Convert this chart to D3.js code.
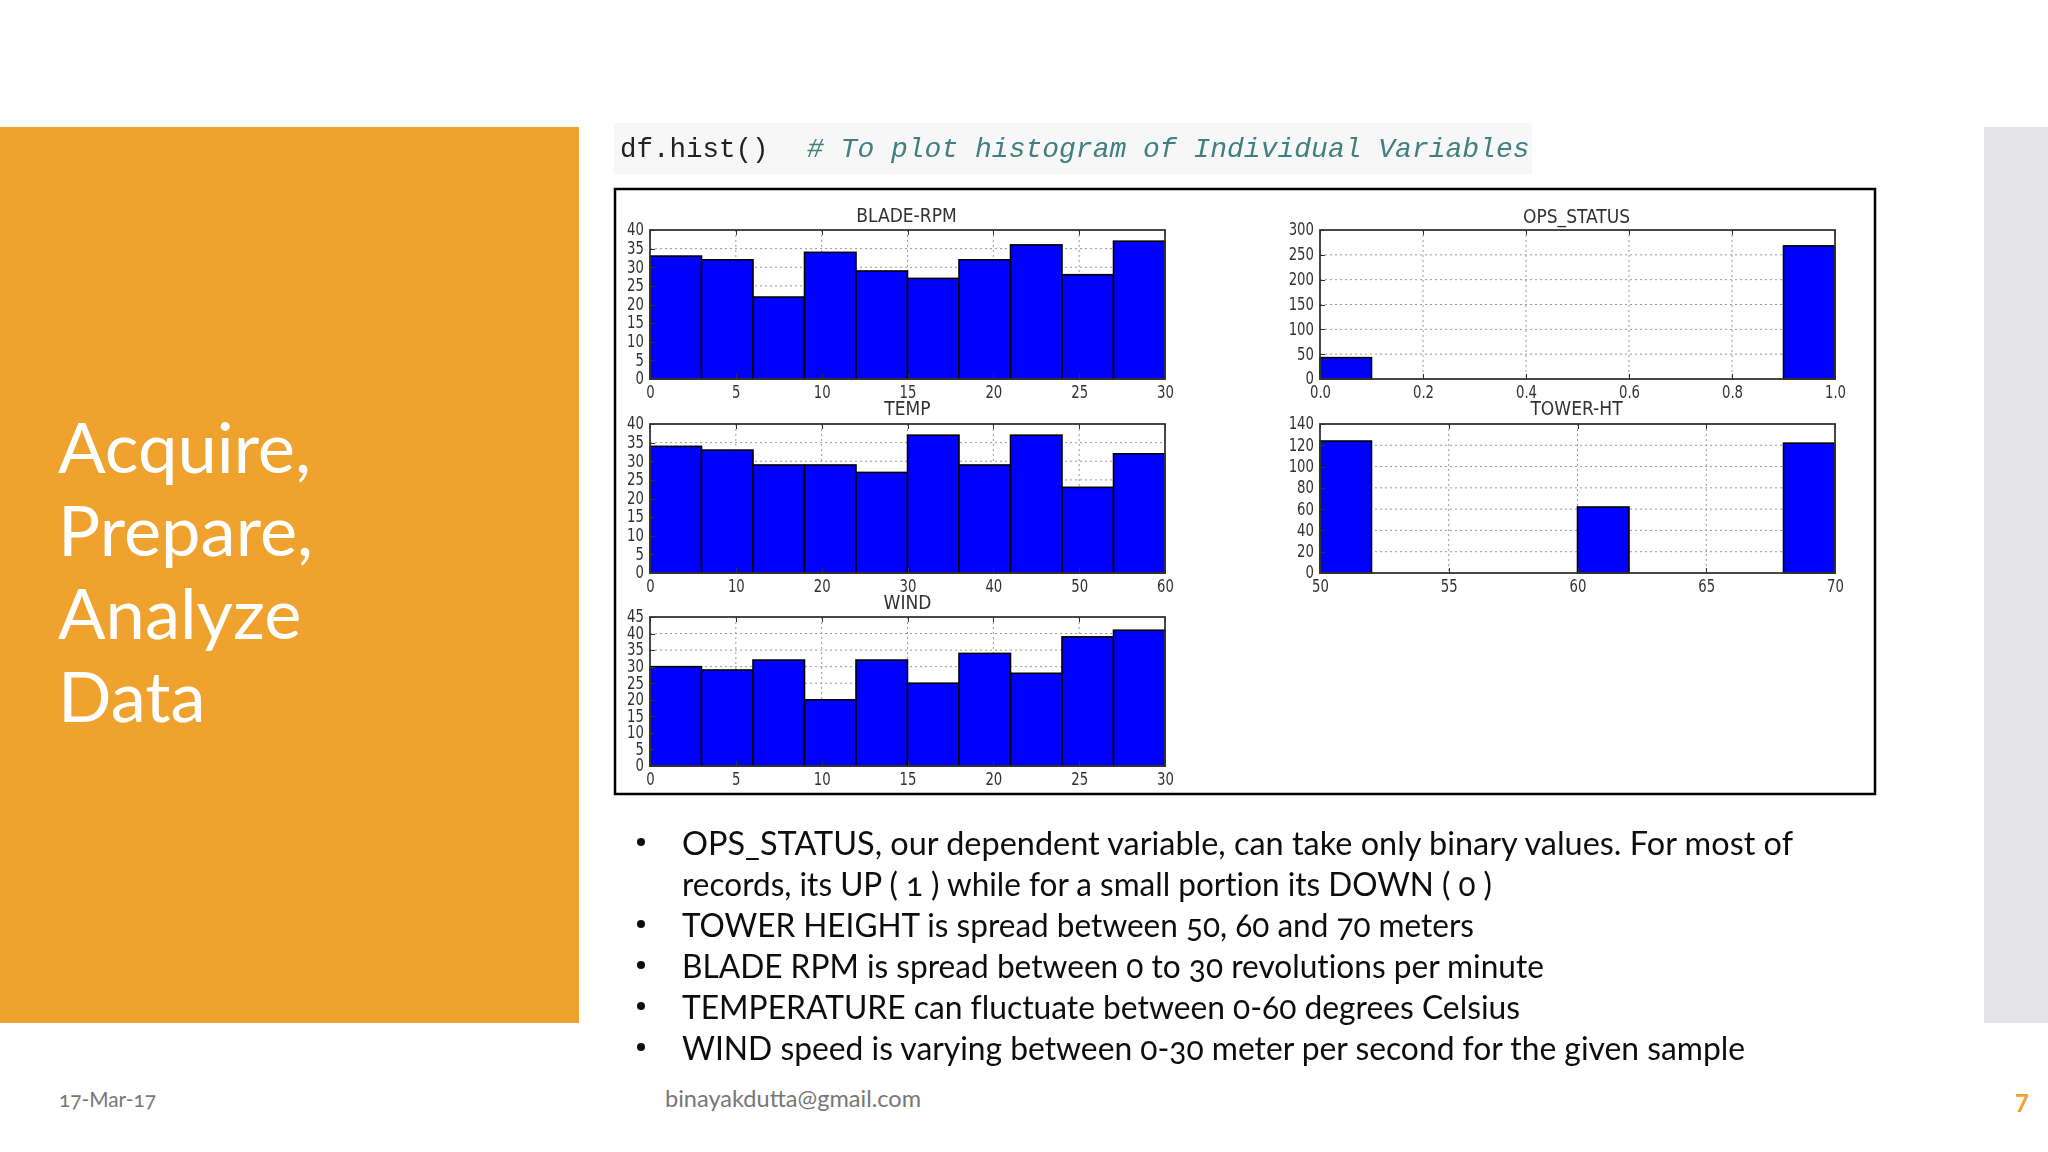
<!DOCTYPE html>
<html>
<head>
<meta charset="utf-8">
<script src="https://cdn.jsdelivr.net/npm/d3@7"></script>
<style>
html, body { margin: 0; padding: 0; background: #fff; }
svg { display: block; }
.tick line { shape-rendering: crispEdges; }
</style>
</head>
<body>
<div id="container"></div>
<script>
var bladeRpm = [33, 32, 22, 34, 29, 27, 32, 36, 28, 37]
var temp = [34, 33, 29, 29, 27, 37, 29, 37, 23, 32]
var wind = [30, 29, 32, 20, 32, 25, 34, 28, 39, 41]
var opsStatus = [43, 0, 0, 0, 0, 0, 0, 0, 0, 268]
var towerHt = [124, 0, 0, 0, 0, 62, 0, 0, 0, 122]

var ticksBy5To30 = [0, 5, 10, 15, 20, 25, 30]
var ticksBy5To40 = [0, 5, 10, 15, 20, 25, 30, 35, 40]
var ticksBy5To45 = [0, 5, 10, 15, 20, 25, 30, 35, 40, 45]
var ticksBy10To60 = [0, 10, 20, 30, 40, 50, 60]
var ticksOpsX = [0, 0.2, 0.4, 0.6, 0.8, 1.0]
var ticksOpsY = [0, 50, 100, 150, 200, 250, 300]
var ticksTowerX = [50, 55, 60, 65, 70]
var ticksTowerY = [0, 20, 40, 60, 80, 100, 120, 140]

var titleLines = ['Acquire,', 'Prepare,', 'Analyze', 'Data']
var bulletText = [
    'OPS_STATUS, our dependent variable, can take only binary values. For most of',
    'records, its UP ( 1 ) while for a small portion its DOWN ( 0 )',
    'TOWER HEIGHT is spread between 50, 60 and 70 meters',
    'BLADE RPM is spread between 0 to 30 revolutions per minute',
    'TEMPERATURE can fluctuate between 0-60 degrees Celsius',
    'WIND speed is varying between 0-30 meter per second for the given sample'
]
var bulletMark = [true, false, true, true, true, true]

var sans = 'Lato, "Open Sans", sans-serif'
var plotFont = '"DejaVu Sans Condensed", "DejaVu Sans", sans-serif'
var squeeze = 0.82
var left = [650, 1320]
var top_ = [230, 424, 617]
var plotW = 515
var plotH = 149
// rendered widths of the bullet lines, the slide font runs a bit wider than Lato
var bulletWidth = [1111, 810, 792, 862, 838, 1063]

var svg = d3.select('#container').append('svg')
    .attr('width', 2048)
    .attr('height', 1152)

svg.append('rect').attr('width', 2048).attr('height', 1152).attr('fill', '#fff')

var defs = svg.append('defs')
defs.append('filter').attr('id', 'soft')
    .attr('x', 0).attr('y', 0).attr('width', 1).attr('height', 1)
    .append('feGaussianBlur').attr('stdDeviation', 0.55)
defs.append('filter').attr('id', 'softer')
    .attr('x', 0).attr('y', 0).attr('width', 1).attr('height', 1)
    .append('feGaussianBlur').attr('stdDeviation', 0.35)

// slide furniture
svg.append('rect').attr('x', 0).attr('y', 127).attr('width', 579).attr('height', 896).attr('fill', '#f0a22e')
svg.append('rect').attr('x', 1984).attr('y', 127).attr('width', 64).attr('height', 896).attr('fill', '#e4e4e6')

svg.selectAll('.slide-title')
    .data(titleLines)
    .enter().append('text')
    .attr('class', 'slide-title')
    .attr('x', 58)
    .attr('y', (d, i) => 473 + i * 83)
    .attr('fill', '#fff')
    .style('font-family', sans)
    .style('font-size', '70.5px')
    .text(d => d)

// the df.hist() line
svg.append('rect').attr('x', 614).attr('y', 123).attr('width', 918).attr('height', 51).attr('fill', '#f7f7f7')
var code = svg.append('g').attr('filter', 'url(#softer)')
code.append('text').attr('x', 620).attr('y', 157)
    .attr('fill', '#222')
    .style('font-family', '"Liberation Mono", monospace')
    .style('font-size', '27.5px')
    .text('df.hist()')
code.append('text').attr('x', 807).attr('y', 157)
    .attr('fill', '#408080')
    .style('font-family', '"Liberation Mono", monospace')
    .style('font-style', 'italic')
    .style('font-size', '28px')
    .text('# To plot histogram of Individual Variables')

// frame around the screenshot of the plots
svg.append('rect').attr('x', 615).attr('y', 189).attr('width', 1260).attr('height', 605)
    .attr('fill', 'none').attr('stroke', '#000').attr('stroke-width', 2.5)

var charts = svg.append('g').attr('filter', 'url(#soft)')

function createHist(name, values, xDomain, yDomain, xTicks, yTicks, xFormat, px, py, titleDx, titleDy) {
    var x = d3.scaleLinear().domain(xDomain).range([0, plotW])
    var y = d3.scaleLinear().domain(yDomain).range([plotH, 0])
    var step = (xDomain[1] - xDomain[0]) / values.length
    var g = charts.append('g').attr('transform', 'translate(' + px + ',' + py + ')')

    // dotted grid first, bars on top of it
    g.append('g').selectAll('line').data(xTicks.slice(1, -1)).enter().append('line')
        .attr('x1', d => x(d)).attr('x2', d => x(d)).attr('y1', 0).attr('y2', plotH)
        .attr('stroke', '#999').attr('stroke-dasharray', '2,3')
    g.append('g').selectAll('line').data(yTicks.slice(1, -1)).enter().append('line')
        .attr('x1', 0).attr('x2', plotW).attr('y1', d => y(d)).attr('y2', d => y(d))
        .attr('stroke', '#999').attr('stroke-dasharray', '2,3')

    g.selectAll('.bar')
        .data(values)
        .enter().append('rect')
        .attr('class', 'bar')
        .attr('x', (d, i) => x(xDomain[0] + i * step))
        .attr('width', (d, i) => x(xDomain[0] + (i + 1) * step) - x(xDomain[0] + i * step))
        .attr('y', d => y(d))
        .attr('height', d => plotH - y(d))
        .attr('fill', d => d > 0 ? '#0000ff' : 'none')
        .attr('stroke', d => d > 0 ? '#000' : 'none')
        .attr('stroke-width', 1.6)

    g.append('rect').attr('width', plotW).attr('height', plotH)
        .attr('fill', 'none').attr('stroke', '#333').attr('stroke-width', 1.8)

    var xAxis = d3.axisBottom(x).tickValues(xTicks).tickSize(-5).tickPadding(6).tickFormat(xFormat)
    var yAxis = d3.axisLeft(y).tickValues(yTicks).tickSize(-5).tickPadding(6 / squeeze).tickFormat(d3.format('d'))
    var xg = g.append('g').attr('transform', 'translate(0,' + plotH + ')').call(xAxis)
    var yg = g.append('g').call(yAxis)
    var xTop = g.append('g').call(d3.axisTop(x).tickValues(xTicks).tickSize(-5).tickFormat(''))
    ;[xg, yg, xTop].forEach(a => {
        a.select('.domain').remove()
        a.selectAll('.tick line').attr('stroke', '#333')
        a.selectAll('text')
            .attr('fill', '#333')
            .attr('transform', 'scale(' + squeeze + ',1)')
            .style('font-family', plotFont)
            .style('font-size', '18px')
    })
    yg.selectAll('text').attr('dy', '0.27em')

    g.append('text')
        .attr('x', plotW / 2 + titleDx)
        .attr('y', titleDy)
        .attr('text-anchor', 'middle')
        .attr('fill', '#333')
        .style('font-family', plotFont)
        .style('font-size', '19px')
        .text(name)
}

var fmtInt = d3.format('d')
var fmtOne = d3.format('.1f')
createHist('BLADE-RPM', bladeRpm, [0, 30], [0, 40], ticksBy5To30, ticksBy5To40, fmtInt, left[0], top_[0], -1, -8)
createHist('TEMP', temp, [0, 60], [0, 40], ticksBy10To60, ticksBy5To40, fmtInt, left[0], top_[1], 0, -9)
createHist('WIND', wind, [0, 30], [0, 45], ticksBy5To30, ticksBy5To45, fmtInt, left[0], top_[2], 0, -8)
createHist('OPS_STATUS', opsStatus, [0, 1], [0, 300], ticksOpsX, ticksOpsY, fmtOne, left[1], top_[0], -1, -7)
createHist('TOWER-HT', towerHt, [50, 70], [0, 140], ticksTowerX, ticksTowerY, fmtInt, left[1], top_[1], -1, -9)

// bullet list under the plots
var list = svg.append('g').attr('filter', 'url(#softer)')
var lines = list.selectAll('.bullet')
    .data(bulletText)
    .enter().append('g')
    .attr('class', 'bullet')
    .attr('transform', (d, i) => 'translate(0,' + (855 + i * 41) + ')')
lines.append('text')
    .attr('x', 682)
    .attr('fill', '#111')
    .attr('textLength', (d, i) => bulletWidth[i])
    .attr('lengthAdjust', 'spacingAndGlyphs')
    .style('font-family', sans)
    .style('font-size', '32px')
    .style('font-feature-settings', '"onum", "liga" 0')
    .text(d => d)
lines.filter((d, i) => bulletMark[i]).append('circle')
    .attr('cx', 641).attr('cy', -13).attr('r', 4).attr('fill', '#111')

// footer
svg.append('text').attr('x', 59).attr('y', 1107).attr('fill', '#777')
    .attr('textLength', 97).attr('lengthAdjust', 'spacingAndGlyphs')
    .style('font-family', sans).style('font-size', '22px').style('font-feature-settings', '"onum"').text('17-Mar-17')
svg.append('text').attr('x', 665).attr('y', 1107).attr('fill', '#777')
    .attr('textLength', 256).attr('lengthAdjust', 'spacingAndGlyphs')
    .style('font-family', sans).style('font-size', '23px').text('binayakdutta@gmail.com')
svg.append('text').attr('x', 2015).attr('y', 1112).attr('fill', '#f0a22e')
    .style('font-family', sans).style('font-size', '24px').style('font-weight', 700).text('7')
</script>
</body>
</html>
